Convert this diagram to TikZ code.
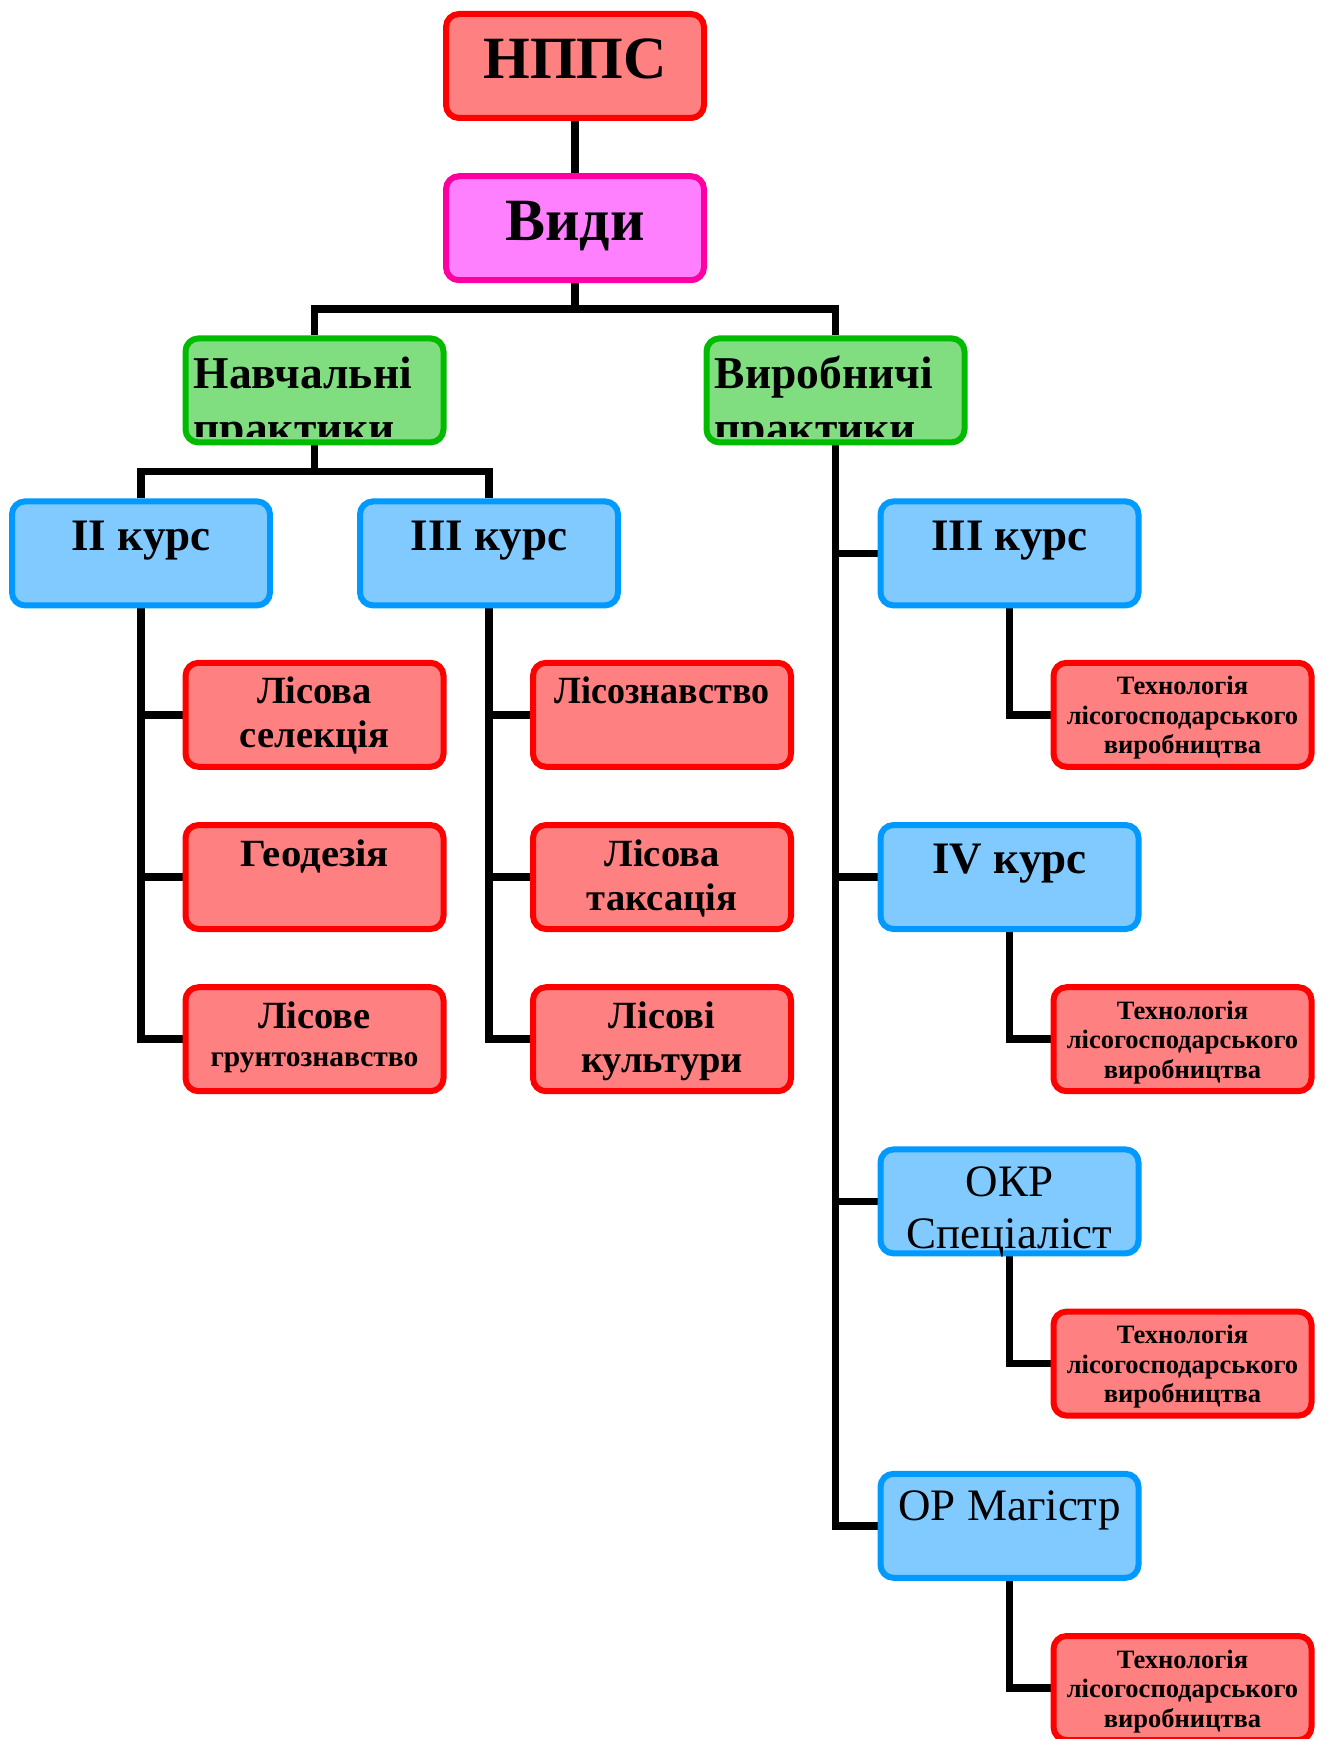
\documentclass[tikz,border=0pt]{standalone}
\usepackage{fontspec}
\setmainfont{Liberation Serif}
\pgfdeclarelayer{bg}
\pgfsetlayers{bg,main}
\definecolor{rfill}{RGB}{255,128,128}
\definecolor{rline}{RGB}{255,0,0}
\definecolor{pfill}{RGB}{255,128,255}
\definecolor{pline}{RGB}{255,0,160}
\definecolor{gfill}{RGB}{128,222,128}
\definecolor{gline}{RGB}{0,187,0}
\definecolor{bfill}{RGB}{128,202,255}
\definecolor{bline}{RGB}{0,153,255}
\newcommand\fs[2]{\fontsize{#1}{#2}\selectfont}
\newcommand\mlc[1]{\begin{tabular}[t]{@{}c@{}}#1\end{tabular}}
\newcommand\mll[1]{\begin{tabular}[t]{@{}l@{}}#1\end{tabular}}
\begin{document}
\begin{tikzpicture}[x=1pt,y=-1pt,line join=miter,
  box/.style={draw, line width=6pt, rounded corners=13pt, minimum width=258pt, minimum height=104pt, inner sep=0pt, outer sep=3pt},
  redbox/.style={box, fill=rfill, draw=rline},
  pinkbox/.style={box, fill=pfill, draw=pline},
  greenbox/.style={box, fill=gfill, draw=gline},
  bluebox/.style={box, fill=bfill, draw=bline},
  conn/.style={line width=7.5pt, draw=black},
  lbl/.style={inner sep=0pt, anchor=base, text=black},
  big/.style={lbl, font=\bfseries\fs{60}{70}},
  kurs/.style={lbl, font=\bfseries\fs{45}{52}},
  kursr/.style={lbl, font=\fs{45}{52}},
  subj/.style={lbl, font=\bfseries\fs{38.5}{44}},
  tech/.style={lbl, font=\bfseries\fs{26.5}{29.5}},
  green/.style={lbl, anchor=base west, font=\bfseries\fs{45.5}{55}}
]
\useasboundingbox (0,0) rectangle (1327,1739);
% boxes
\node[redbox] (nppc) at (575,66) {};
\node[pinkbox] (vydy) at (575,228.2) {};
\node[greenbox] (navch) at (314.5,390.4) {};
\node[greenbox] (vyrob) at (835.5,390.4) {};
\node[bluebox] (k2) at (141,553.4) {};
\node[bluebox] (k3l) at (489,553.4) {};
\node[bluebox] (k3r) at (1009.5,553.4) {};
\node[redbox] (lsel) at (314.5,714.8) {};
\node[redbox] (geod) at (314.5,877) {};
\node[redbox] (lgrunt) at (314.5,1039.2) {};
\node[redbox] (lznav) at (662,714.8) {};
\node[redbox] (ltaks) at (662,877) {};
\node[redbox] (lkult) at (662,1039.2) {};
\node[redbox] (tech1) at (1182.5,714.8) {};
\node[bluebox] (k4) at (1009.5,877) {};
\node[redbox] (tech2) at (1182.5,1039.2) {};
\node[bluebox] (okr) at (1009.5,1201.4) {};
\node[redbox] (tech3) at (1182.5,1363.6) {};
\node[bluebox] (mag) at (1009.5,1525.8) {};
\node[redbox] (tech4) at (1182.5,1688) {};
% connectors
\begin{pgfonlayer}{bg}
\draw[conn] (nppc.south) -- (vydy.north);
\draw[conn] (vydy.south) -- ++(0,26) coordinate (j1) -| (navch.north);
\draw[conn] (j1) -| (vyrob.north);
\draw[conn] (navch.south) -- ++(0,26) coordinate (j2) -| (k2.north);
\draw[conn] (j2) -| (k3l.north);
\draw[conn] (k2.south) |- (lsel.west);
\draw[conn] (k2.south) |- (geod.west);
\draw[conn] (k2.south) |- (lgrunt.west);
\draw[conn] (k3l.south) |- (lznav.west);
\draw[conn] (k3l.south) |- (ltaks.west);
\draw[conn] (k3l.south) |- (lkult.west);
\draw[conn] (vyrob.south) |- (k3r.west);
\draw[conn] (vyrob.south) |- (k4.west);
\draw[conn] (vyrob.south) |- (okr.west);
\draw[conn] (vyrob.south) |- (mag.west);
\draw[conn] (k3r.south) |- (tech1.west);
\draw[conn] (k4.south) |- (tech2.west);
\draw[conn] (okr.south) |- (tech3.west);
\draw[conn] (mag.south) |- (tech4.west);
\end{pgfonlayer}
% labels
\node[big] (nppct) at ([yshift=-68pt]nppc.north) {НППС};
\node[big] (vydyt) at ([yshift=-67pt]vydy.north) {Види};
\begin{scope}
\clip ([xshift=6pt,yshift=-6pt]navch.north west) rectangle ([xshift=-6pt,yshift=9pt]navch.south east);
\node[green] (navcht) at ([xshift=11pt,yshift=-53pt]navch.north west) {\mll{Навчальні\\практики}};
\end{scope}
\begin{scope}
\clip ([xshift=6pt,yshift=-6pt]vyrob.north west) rectangle ([xshift=-6pt,yshift=9pt]vyrob.south east);
\node[green] (vyrobt) at ([xshift=11pt,yshift=-53pt]vyrob.north west) {\mll{Виробничі\\практики}};
\end{scope}
\node[kurs] (k2t) at ([yshift=-52pt]k2.north) {II курс};
\node[kurs] (k3lt) at ([yshift=-52pt]k3l.north) {III курс};
\node[kurs] (k3rt) at ([yshift=-52pt]k3r.north) {III курс};
\node[kurs] (k4t) at ([yshift=-51pt]k4.north) {IV курс};
\node[kursr] (okrt) at ([yshift=-50pt]okr.north) {\mlc{ОКР\\Спеціаліст}};
\node[kursr] (magt) at ([yshift=-50pt]mag.north) {ОР Магістр};
\node[subj] (lselt) at ([yshift=-44pt]lsel.north) {\mlc{Лісова\\селекція}};
\node[subj] (geodt) at ([yshift=-44pt]geod.north) {\scalebox{1.06}[1]{Геодезія}};
\node[subj] (lgruntt) at ([yshift=-44pt]lgrunt.north) {\mlc{Лісове\\[-6pt]{\fs{29.5}{32}грунтознавство}}};
\node[subj] (lznavt) at ([yshift=-44pt]lznav.north) {\scalebox{0.935}[1]{Лісознавство}};
\node[subj] (ltakst) at ([yshift=-44pt]ltaks.north) {\mlc{Лісова\\таксація}};
\node[subj] (lkultt) at ([yshift=-44pt]lkult.north) {\mlc{Лісові\\культури}};
\node[tech] (tech1t) at ([yshift=-35pt]tech1.north) {\mlc{Технологія\\лісогосподарського\\виробництва}};
\node[tech] (tech2t) at ([yshift=-35pt]tech2.north) {\mlc{Технологія\\лісогосподарського\\виробництва}};
\node[tech] (tech3t) at ([yshift=-35pt]tech3.north) {\mlc{Технологія\\лісогосподарського\\виробництва}};
\node[tech] (tech4t) at ([yshift=-35pt]tech4.north) {\mlc{Технологія\\лісогосподарського\\виробництва}};
\end{tikzpicture}
\end{document}
